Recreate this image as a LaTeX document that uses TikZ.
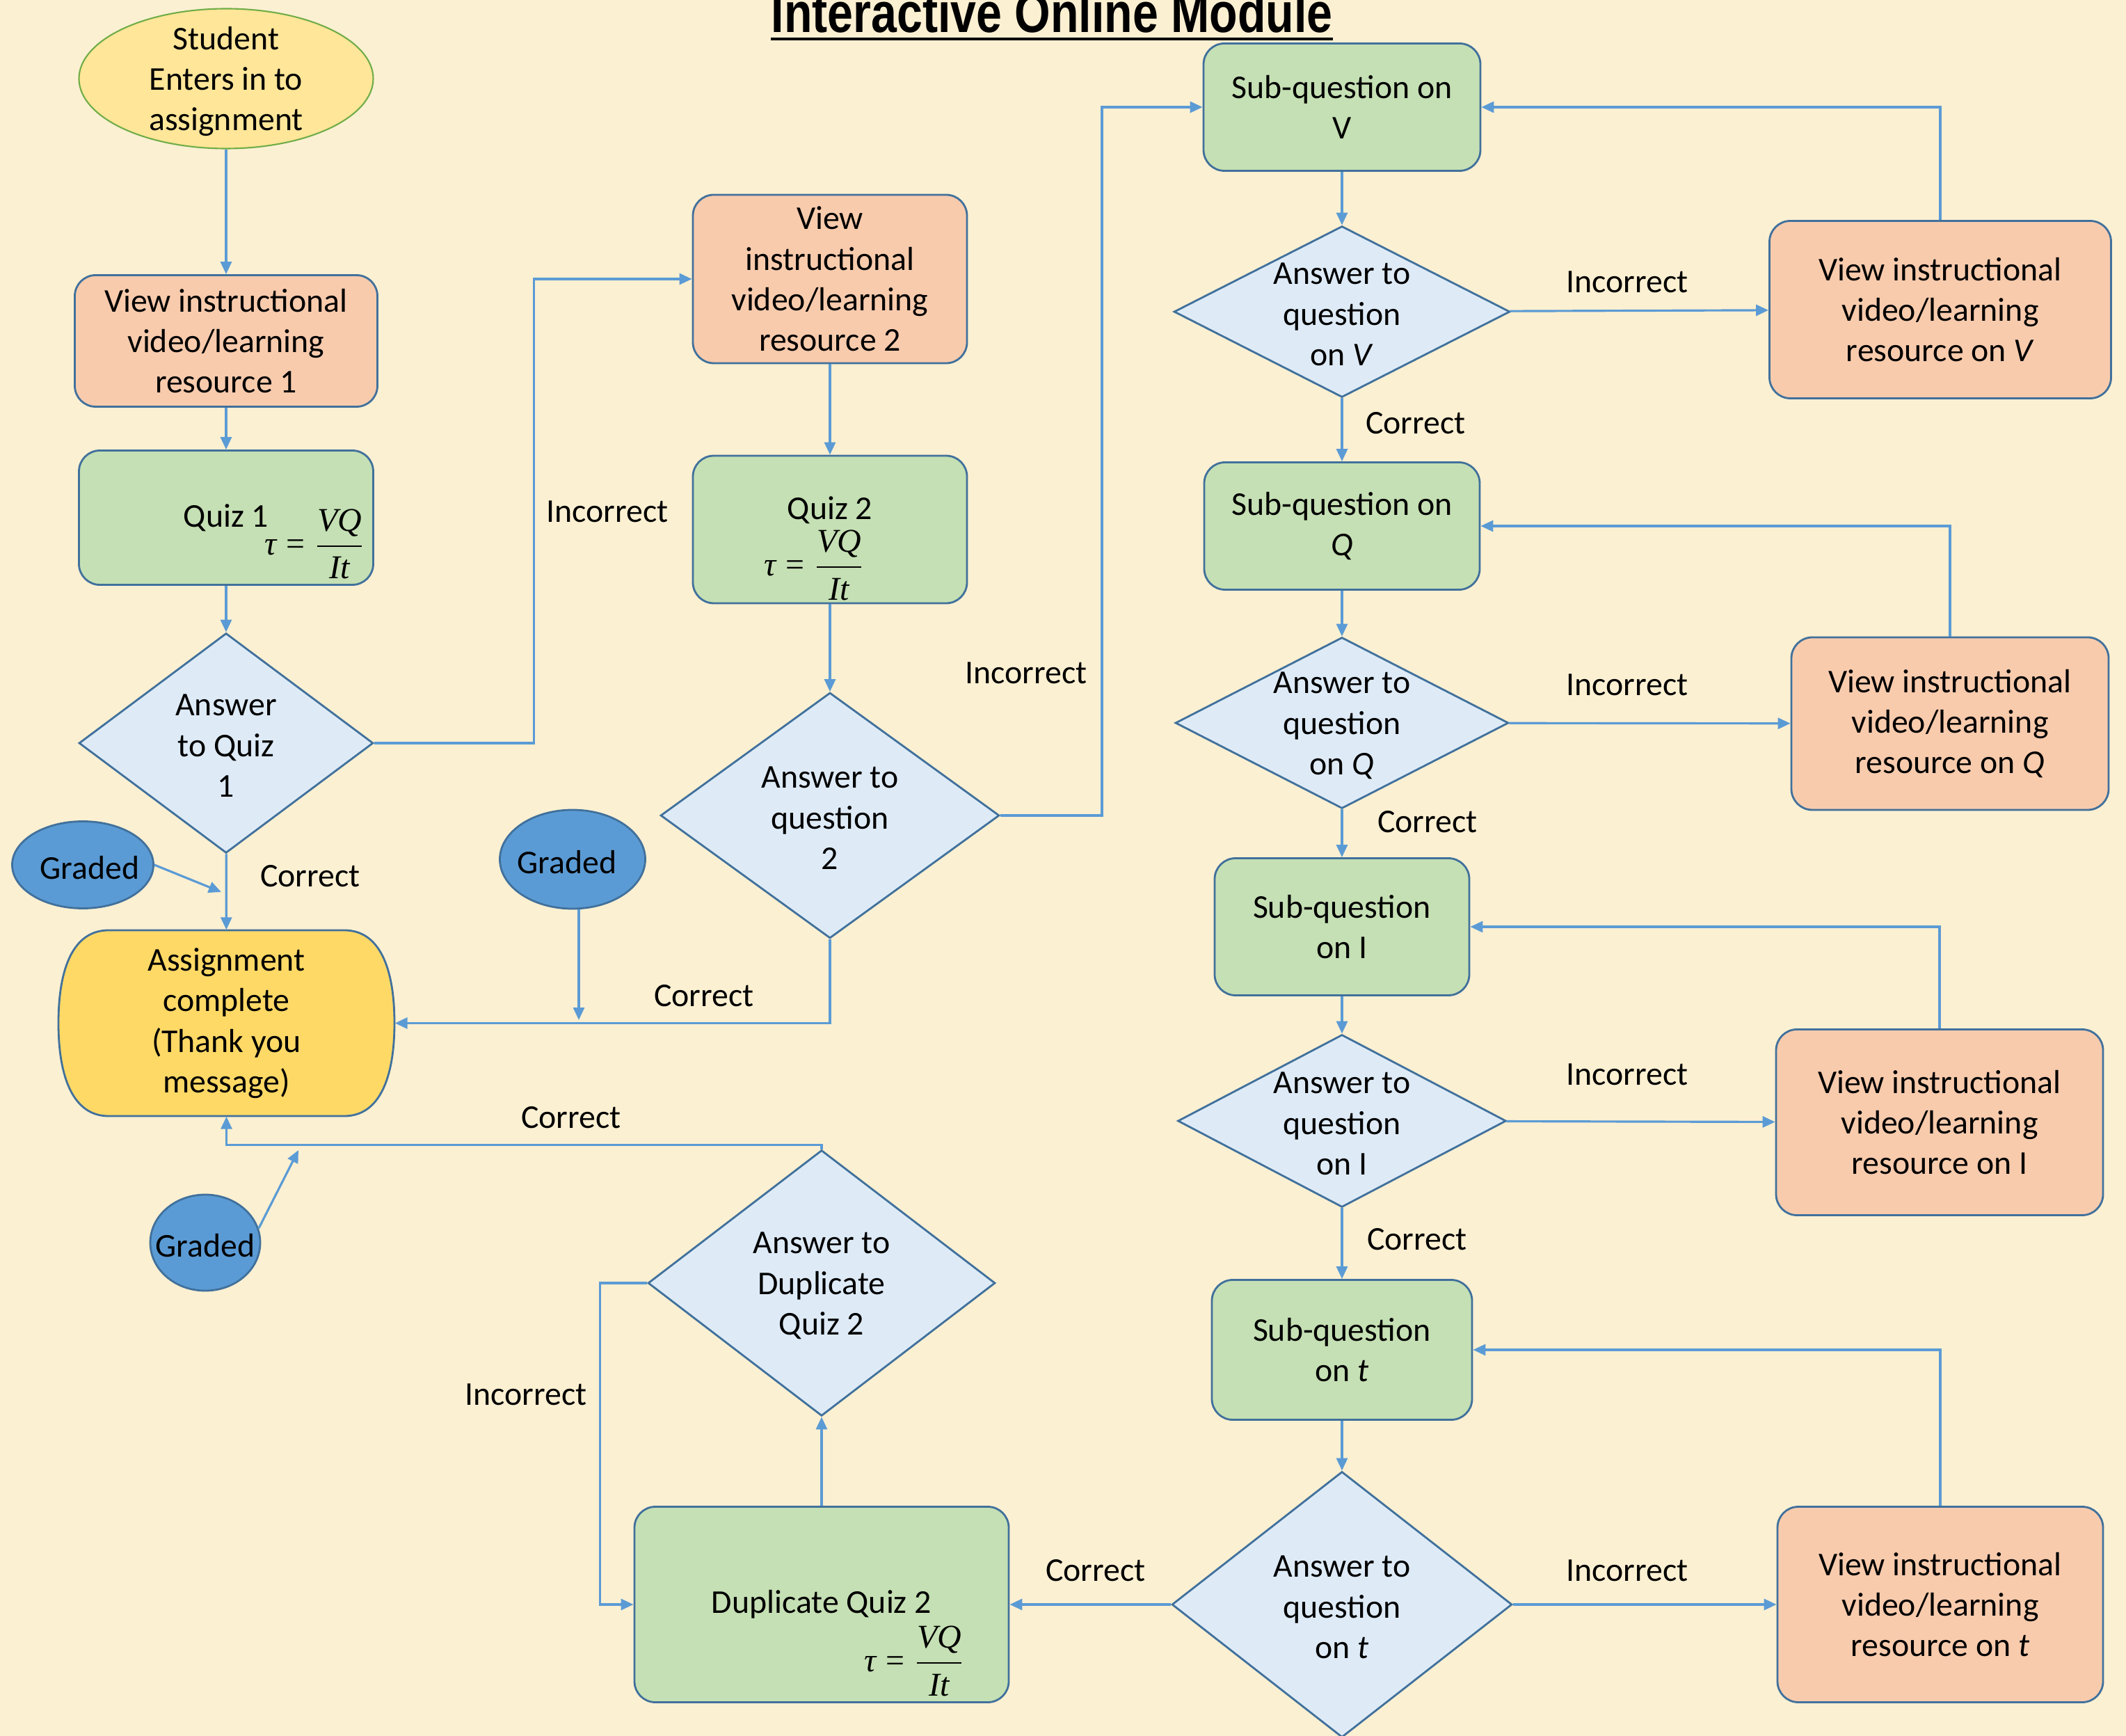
\documentclass[tikz,border=0pt]{standalone}
\usepackage{amsmath}
\usepackage{fontspec}
\setmainfont{Carlito}
\newfontfamily\titlefont[FakeStretch=0.82]{Liberation Sans Bold}
\newfontfamily\eqfont{Liberation Serif}
\usepackage{tikz}
\usetikzlibrary{shapes.geometric, arrows.meta, positioning, calc}
\definecolor{modbg}{HTML}{FCF0D2}
\definecolor{modline}{HTML}{41719C}
\definecolor{modarrow}{HTML}{5B9BD5}
\definecolor{modpeach}{HTML}{F8CBAD}
\definecolor{modgreen}{HTML}{C5E0B4}
\definecolor{modsky}{HTML}{DEEBF7}
\definecolor{modcream}{HTML}{FFE699}
\definecolor{modleaf}{HTML}{70AD47}
\definecolor{modgold}{HTML}{FFD966}
\newcommand{\taueq}{$\text{\eqfont\itshape τ}\mathrel{\text{\eqfont=}}\dfrac{\text{\eqfont\itshape VQ}}{\text{\eqfont\itshape It}}$}

\begin{document}
\begin{tikzpicture}[
    font=\fontsize{13.6}{16.6}\selectfont,
    every label/.style={align=center, inner sep=0pt, yshift=-0.04cm},
    entry/.style={ellipse, draw=modleaf, fill=modcream, line width=0.6pt, inner sep=0pt},
    viewbox/.style={rectangle, draw=modline, fill=modpeach, line width=0.8pt, rounded corners=0.3cm, align=center, inner sep=1pt},
    quizbox/.style={rectangle, draw=modline, fill=modgreen, line width=0.8pt, rounded corners=0.3cm, align=center, inner sep=1pt},
    answer/.style={diamond, draw=modline, fill=modsky, line width=0.8pt, inner sep=0pt},
    graded/.style={ellipse, draw=modline, fill=modarrow, line width=0.8pt, inner sep=0pt},
    arrow/.style={-{Triangle[length=1.8mm, width=1.6mm]}, modarrow, line width=0.9pt},
    lbl/.style={inner sep=0pt}
]

% Page and title
\useasboundingbox (0,0) rectangle (30.56,-24.95);
\fill[modbg] (0,0) rectangle (30.56,-24.95);
\node[font=\titlefont\fontsize{23}{26}\selectfont, inner sep=0pt, anchor=base] (title) at (15.12,-0.47) {Interactive Online Module};
\draw[line width=1.3pt] ($(title.base west)+(0,-0.09)$) -- ($(title.base east)+(0,-0.09)$);

% Left column: quiz 1
\node[entry, minimum width=4.23cm, minimum height=2.01cm, label={center:Student\\Enters in to\\assignment}] (start) at (3.25,-1.13) {};
\node[viewbox, minimum width=4.35cm, minimum height=1.89cm] (res1) at (3.25,-4.90) {View instructional\\video/learning\\resource 1};
\node[quizbox, minimum width=4.23cm, minimum height=1.93cm] (quiz1) at (3.25,-7.44) {Quiz 1\rlap{\hspace*{-0.06cm}\smash{\raisebox{-0.40cm}{\taueq}}}};
\node[answer, minimum width=4.23cm, minimum height=3.16cm, label={center:Answer\\to Quiz\\1}] (ans1) at (3.25,-10.68) {};
\node[graded, minimum width=2.03cm, minimum height=1.25cm, label={[xshift=0.1cm]center:Graded}] (graded1) at (1.19,-12.43) {};

% Assignment complete (drawn shape, then the node)
\draw[modline, fill=modgold, line width=0.8pt] (1.56,-13.37) -- (4.95,-13.37)
    .. controls (5.45,-13.37) and (5.67,-13.9) .. (5.67,-14.705)
    .. controls (5.67,-15.5) and (5.45,-16.04) .. (4.95,-16.04) -- (1.56,-16.04)
    .. controls (1.06,-16.04) and (0.84,-15.5) .. (0.84,-14.705)
    .. controls (0.84,-13.9) and (1.06,-13.37) .. cycle;
\node[minimum width=4.83cm, minimum height=2.67cm, align=center, inner sep=0pt] (done) at (3.255,-14.705) {Assignment\\complete\\(Thank you\\message)};
\node[graded, minimum width=1.58cm, minimum height=1.38cm, label={center:Graded}] (graded3) at (2.95,-17.86) {};
\node[graded, minimum width=2.09cm, minimum height=1.42cm, label={[xshift=-0.08cm]center:Graded}] (graded2) at (8.23,-12.35) {};

% Middle column: quiz 2
\node[viewbox, minimum width=3.94cm, minimum height=2.42cm] (res2) at (11.93,-4.01) {View\\instructional\\video/learning\\resource 2};
\node[quizbox, minimum width=3.94cm, minimum height=2.12cm, text height=0.35cm, text depth=0.64cm] (quiz2) at (11.93,-7.61) {Quiz 2\rlap{\hspace*{-1.56cm}\smash{\raisebox{-0.81cm}{\taueq}}}};
\node[answer, minimum width=4.87cm, minimum height=3.53cm, label={center:Answer to\\question\\2}] (ans2) at (11.93,-11.72) {};
\node[answer, minimum width=4.99cm, minimum height=3.82cm, label={center:Answer to\\Duplicate\\Quiz 2}] (ansdup) at (11.81,-18.44) {};
\node[quizbox, minimum width=5.38cm, minimum height=2.81cm] (dupquiz) at (11.81,-23.06) {Duplicate Quiz 2\rlap{\hspace*{-0.97cm}\smash{\raisebox{-0.84cm}{\taueq}}}};

% Right column: sub-questions
\node[quizbox, minimum width=3.98cm, minimum height=1.83cm] (subV) at (19.29,-1.54) {Sub-question on\\V};
\node[answer, minimum width=4.83cm, minimum height=2.46cm, label={center:Answer to\\question\\on \textit{V}}] (ansV) at (19.29,-4.48) {};
\node[quizbox, minimum width=3.96cm, minimum height=1.83cm] (subQ) at (19.29,-7.56) {Sub-question on\\\textit{Q}};
\node[answer, minimum width=4.79cm, minimum height=2.46cm, label={center:Answer to\\question\\on \textit{Q}}] (ansQ) at (19.29,-10.39) {};
\node[quizbox, minimum width=3.66cm, minimum height=1.97cm] (subI) at (19.29,-13.32) {Sub-question\\on I};
\node[answer, minimum width=4.72cm, minimum height=2.48cm, label={center:Answer to\\question\\on I}] (ansI) at (19.29,-16.11) {};
\node[quizbox, minimum width=3.74cm, minimum height=2.01cm] (subt) at (19.29,-19.40) {Sub-question\\on \textit{t}};
\node[answer, minimum width=4.89cm, minimum height=3.82cm, label={center:Answer to\\question\\on \textit{t}}] (anst) at (19.29,-23.06) {};

% Resources for the sub-questions
\node[viewbox, minimum width=4.91cm, minimum height=2.55cm] (resV) at (27.89,-4.45) {View instructional\\video/learning\\resource on \textit{V}};
\node[viewbox, minimum width=4.56cm, minimum height=2.48cm] (resQ) at (28.03,-10.40) {View instructional\\video/learning\\resource on \textit{Q}};
\node[viewbox, minimum width=4.70cm, minimum height=2.67cm] (resI) at (27.88,-16.13) {View instructional\\video/learning\\resource on I};
\node[viewbox, minimum width=4.68cm, minimum height=2.81cm] (rest) at (27.89,-23.06) {View instructional\\video/learning\\resource on \textit{t}};

% Free ends of the Graded arrows
\coordinate (g1tip) at (3.18,-12.82);
\coordinate (g2tip) at (8.32,-14.66);
\coordinate (g3tip) at (4.29,-16.53);

% Arrows: left and middle
\draw[arrow] (start) -- (res1);
\draw[arrow] (res1) -- (quiz1);
\draw[arrow] (quiz1) -- (ans1);
\draw[arrow] (ans1) -- (done);
\draw[arrow] (ans1.east) -- ++(2.30,0) |- (res2.west);
\draw[arrow] (graded1.east) -- (g1tip);
\draw[arrow] (g2tip |- graded2.south) -- (g2tip);
\draw[arrow] (graded3.15) -- (g3tip);
\draw[arrow] (res2) -- (quiz2);
\draw[arrow] (quiz2) -- (ans2);
\draw[arrow] (ans2.east) -- ++(1.46,0) |- (subV.west);
\draw[arrow] (ans2.south) |- (done.east);
\draw[arrow] (ansdup.north) -- ++(0,0.06) -| (done.south);
\draw[arrow] (ansdup.west) -- ++(-0.68,0) |- (dupquiz.west);
\draw[arrow] (dupquiz) -- (ansdup);
\draw[arrow] (anst) -- (dupquiz);

% Arrows: right column
\foreach \q in {V,Q,I,t} {
    \draw[arrow] (sub\q) -- (ans\q);
    \draw[arrow] (ans\q) -- (res\q);
    \draw[arrow] (res\q.north) |- (sub\q.east);
}
\draw[arrow] (ansV) -- (subQ);
\draw[arrow] (ansQ) -- (subI);
\draw[arrow] (ansI) -- (subt);

% Branch labels
\node[lbl] (l1) at (8.73,-7.35) {Incorrect};
\node[lbl] (l2) at (4.46,-12.59) {Correct};
\node[lbl] (l3) at (14.75,-9.67) {Incorrect};
\node[lbl] (l4) at (10.12,-14.31) {Correct};
\node[lbl] (l5) at (8.21,-16.06) {Correct};
\node[lbl] (l6) at (7.56,-20.04) {Incorrect};
\node[lbl] (l7) at (15.75,-22.57) {Correct};
\node[lbl] (lV) at (23.39,-4.05) {Incorrect};
\node[lbl] (lQ) at (23.39,-9.84) {Incorrect};
\node[lbl] (lI) at (23.39,-15.44) {Incorrect};
\node[lbl] (lt) at (23.39,-22.57) {Incorrect};
\node[lbl] (cV) at (20.35,-6.08) {Correct};
\node[lbl] (cQ) at (20.52,-11.81) {Correct};
\node[lbl] (cI) at (20.37,-17.81) {Correct};

\end{tikzpicture}
\end{document}
